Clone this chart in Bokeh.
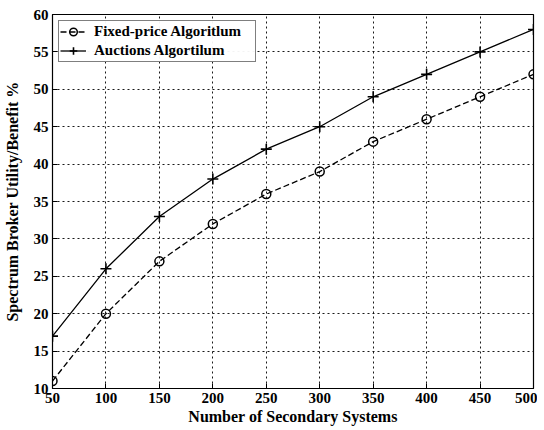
from bokeh.plotting import figure
from bokeh.models import Legend, LegendItem, FixedTicker, Range1d
from bokeh.embed import file_html
from bokeh.resources import INLINE

systems = [50, 100, 150, 200, 250, 300, 350, 400, 450, 500]
fixed_price = [11, 20, 27, 32, 36, 39, 43, 46, 49, 52]
auctions = [17, 26, 33, 38, 42, 45, 49, 52, 55, 58]
x_ticks = [50, 100, 150, 200, 250, 300, 350, 400, 450, 500]
y_ticks = [10, 15, 20, 25, 30, 35, 40, 45, 50, 55, 60]

FONT = "Liberation Serif"

p = figure(width=537, height=427, output_backend="svg", toolbar_location=None,
           x_range=Range1d(50, 500), y_range=Range1d(10, 60),
           min_border_left=51, min_border_top=14, min_border_right=4, min_border_bottom=38)

p.outline_line_color = "black"
p.outline_line_width = 1.2
p.background_fill_color = "white"

for ax in (p.xaxis[0], p.yaxis[0]):
    ax.major_label_text_font = FONT
    ax.major_label_text_font_style = "bold"
    ax.major_label_text_font_size = "15px"
    ax.major_label_text_color = "black"
    ax.axis_label_text_font = FONT
    ax.axis_label_text_font_style = "bold"
    ax.axis_label_text_font_size = "16px"
    ax.axis_label_text_color = "black"
    ax.major_tick_in = 5
    ax.major_tick_out = 0
    ax.minor_tick_in = 0
    ax.minor_tick_out = 0
    ax.axis_line_color = "black"
    ax.major_tick_line_color = "black"
    ax.major_label_standoff = 4

p.xaxis.axis_label_standoff = 2
p.yaxis.axis_label_standoff = 10
p.xaxis.ticker = FixedTicker(ticks=x_ticks)
p.yaxis.ticker = FixedTicker(ticks=y_ticks)
p.xaxis.axis_label = "Number of Secondary Systems"
p.yaxis.axis_label = "Spectrum Broker Utility/Benefit %"

p.xgrid.grid_line_color = "black"
p.ygrid.grid_line_color = "black"
p.xgrid.grid_line_dash = "2 3"
p.ygrid.grid_line_dash = "2 3"
p.xgrid.grid_line_alpha = 0.9
p.ygrid.grid_line_alpha = 0.9

l1 = p.line(systems, fixed_price, line_color="black", line_width=1.3, line_dash="6 3")
m1 = p.scatter(systems, fixed_price, marker="circle", size=9, fill_color=None,
               line_color="black", line_width=1.5)
l2 = p.line(systems, auctions, line_color="black", line_width=1.3)
m2 = p.scatter(systems, auctions, marker="cross", size=11, line_color="black", line_width=1.6)

legend = Legend(items=[
    LegendItem(label="Fixed-price Algoritlum", renderers=[l1, m1]),
    LegendItem(label="Auctions Algortilum", renderers=[l2, m2]),
], location="top_left")
legend.label_text_font = FONT
legend.label_text_font_style = "bold"
legend.label_text_font_size = "15px"
legend.label_text_color = "black"
legend.border_line_color = "black"
legend.border_line_width = 1.2
legend.margin = 6
legend.padding = 1
legend.spacing = 0
legend.glyph_width = 26
legend.label_height = 19
legend.glyph_height = 19
legend.label_standoff = 8
legend.label_width = 160
p.add_layout(legend)

open("out.html", "w").write(file_html(p, INLINE))
